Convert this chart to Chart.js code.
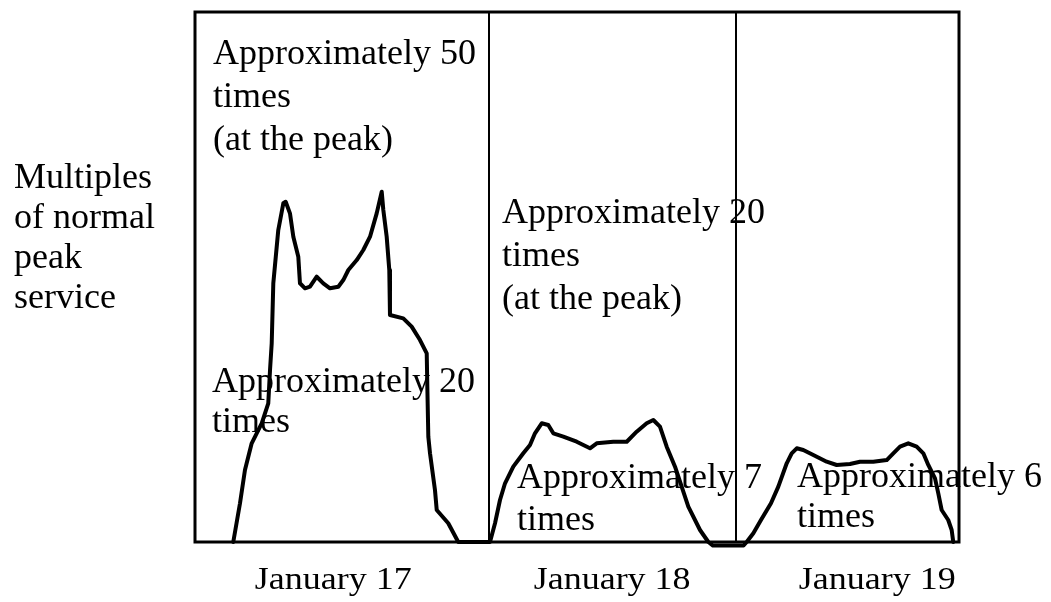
<!DOCTYPE html>
<html>
<head>
<meta charset="utf-8">
<script src="https://cdn.jsdelivr.net/npm/chart.js@4.4.1/dist/chart.umd.min.js"></script>
<style>
  html, body { margin: 0; padding: 0; background: #ffffff; }
  #wrap { width: 1051px; height: 602px; }
</style>
</head>
<body>
<div id="wrap"><canvas id="c" width="1051" height="602"></canvas></div>
<script>
// ---- Data (x = position along the three-day timeline, 0..100; y = multiples of normal peak service) ----
const dayLabels = ["January 17", "January 18", "January 19"];
const dayLabelPositions = [18.1, 54.6, 89.3];
const dayBoundaries = [38.48, 70.81];

const timeJan17 = [5.01, 5.89, 6.54, 7.42, 8.73, 9.59, 9.82, 10.04, 10.25, 10.90, 11.56, 11.87, 12.43, 12.87, 13.52, 13.74, 14.40, 15.05, 15.93, 16.79, 17.67, 18.76, 19.41, 20.07, 21.17, 22.03, 22.91, 23.78, 24.44, 24.65, 25.09, 25.43, 25.52, 27.26, 28.36, 29.45, 30.33, 30.41, 30.54, 30.76, 31.41, 31.64, 33.15, 34.46];
const serviceJan17 = [0, 5.48, 10.19, 13.97, 16.8, 19.63, 24.34, 28.12, 36.61, 44.15, 47.93, 48.15, 46.51, 43.2, 40.37, 36.61, 35.9, 36.13, 37.54, 36.61, 35.9, 36.13, 37.07, 38.49, 39.9, 41.32, 43.2, 46.51, 49.57, 46.98, 43.2, 38.49, 32.12, 31.65, 30.47, 28.58, 26.7, 21.98, 14.9, 12.55, 7.36, 4.53, 2.65, 0];

const timeJan18 = [38.61, 39.27, 39.92, 40.58, 41.66, 42.97, 43.85, 44.50, 45.38, 46.24, 46.90, 48.21, 49.96, 51.70, 52.58, 54.75, 56.51, 57.81, 59.12, 59.99, 60.86, 61.74, 62.83, 63.70, 64.57, 66.10, 67.19, 67.8, 71.8];
const serviceJan18 = [0, 2.65, 5.94, 8.31, 10.66, 12.55, 13.73, 15.38, 16.8, 16.56, 15.38, 14.9, 14.19, 13.26, 13.97, 14.19, 14.19, 15.61, 16.8, 17.26, 16.32, 13.49, 10.66, 7.83, 5.0, 1.7, 0, -0.5, -0.5];

const timeJan19 = [72.21, 73.08, 74.08, 75.39, 76.35, 77.45, 78.10, 78.76, 79.62, 80.93, 82.68, 83.99, 85.73, 87.04, 88.78, 90.54, 91.40, 92.28, 93.36, 94.46, 95.33, 95.98, 96.86, 97.29, 97.73, 98.59, 99.04, 99.25];
const serviceJan19 = [0, 1.23, 3.11, 5.48, 7.83, 11.14, 12.55, 13.26, 13.02, 12.31, 11.36, 10.9, 11.04, 11.36, 11.36, 11.6, 12.55, 13.49, 13.97, 13.49, 12.55, 10.9, 9.01, 6.89, 4.53, 3.11, 1.7, 0];

const yAxisTitle = ["Multiples", "of normal", "peak", "service"];
const noteJan17Peak = ["Approximately 50", "times", "(at the peak)"];
const noteJan17Plateau = ["Approximately 20", "times"];
const noteJan18Peak = ["Approximately 20", "times", "(at the peak)"];
const noteJan18Plateau = ["Approximately 7", "times"];
const noteJan19Plateau = ["Approximately 6", "times"];

// ---- Build series ----
const allTime = timeJan17.concat(timeJan18, timeJan19);
const allService = serviceJan17.concat(serviceJan18, serviceJan19);
const points = allTime.map((t, i) => ({ x: t, y: allService[i] }));

const FONT = '"Liberation Serif", "Times New Roman", serif';

const decorPlugin = {
  id: 'decor',
  beforeDatasetsDraw(chart) {
    const { ctx, chartArea: a, scales } = chart;
    ctx.save();
    ctx.strokeStyle = '#000';
    ctx.lineWidth = 3;
    ctx.strokeRect(a.left, a.top, a.right - a.left, a.bottom - a.top);
    ctx.lineWidth = 2;
    dayBoundaries.forEach(v => {
      const px = Math.round(scales.x.getPixelForValue(v));
      ctx.beginPath();
      ctx.moveTo(px, a.top);
      ctx.lineTo(px, a.bottom);
      ctx.stroke();
    });
    ctx.restore();
  },
  afterDatasetsDraw(chart) {
    const { ctx, scales } = chart;
    ctx.save();
    ctx.fillStyle = '#000';
    ctx.textBaseline = 'alphabetic';
    ctx.font = '36px ' + FONT;
    ctx.textAlign = 'left';
    const block = (lines, x, y0, dy) => {
      lines.forEach((s, i) => ctx.fillText(s, x, y0 + i * dy));
    };
    block(yAxisTitle, 14, 188, 40);
    block(noteJan17Peak, 213, 64, 43);
    block(noteJan17Plateau, 212, 392, 40);
    block(noteJan18Peak, 502, 223, 43);
    block(noteJan18Plateau, 517, 488, 42);
    block(noteJan19Plateau, 797, 487, 40);

    // x labels
    ctx.textAlign = 'center';
    dayLabels.forEach((s, i) => {
      const px = scales.x.getPixelForValue(dayLabelPositions[i]);
      ctx.save();
      ctx.translate(px, 589);
      ctx.scale(1, 0.88);
      ctx.fillText(s, 0, 0);
      ctx.restore();
    });
    ctx.restore();
  }
};

new Chart(document.getElementById('c'), {
  type: 'line',
  data: {
    datasets: [{
      data: points,
      borderColor: '#000',
      borderWidth: 4,
      pointRadius: 0,
      tension: 0,
      fill: false,
      borderJoinStyle: 'round',
      borderCapStyle: 'round',
      clip: 10
    }]
  },
  options: {
    responsive: false,
    devicePixelRatio: 1,
    animation: false,
    layout: { padding: { left: 195, right: 92, top: 12, bottom: 60 } },
    plugins: { legend: { display: false }, tooltip: { enabled: false } },
    scales: {
      x: { type: 'linear', min: 0, max: 100, display: false },
      y: { type: 'linear', min: 0, max: 75, display: false }
    }
  },
  plugins: [decorPlugin]
});
</script>
</body>
</html>
